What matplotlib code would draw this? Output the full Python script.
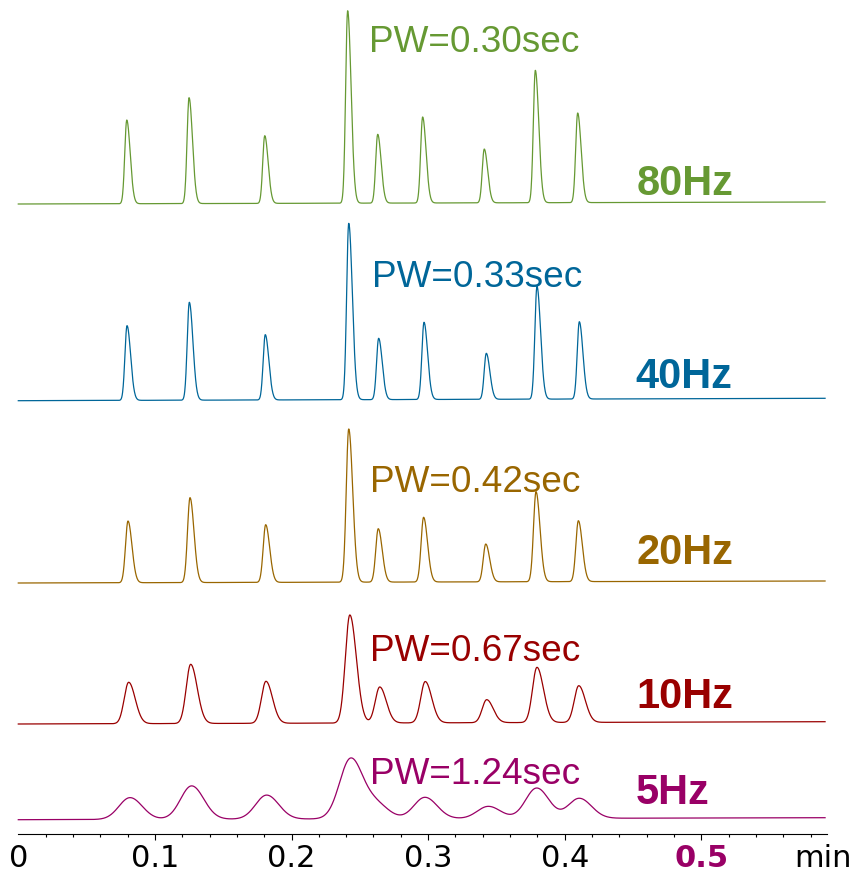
import numpy as np
import matplotlib
matplotlib.use("Agg")
import matplotlib.pyplot as plt

# ---------------- data ----------------
trace_names = ["80Hz", "40Hz", "20Hz", "10Hz", "5Hz"]
pw_labels = ["PW=0.30sec", "PW=0.33sec", "PW=0.42sec", "PW=0.67sec", "PW=1.24sec"]
trace_colors = ["#669933", "#006699", "#996600", "#990000", "#990066"]

# peak retention times (min) for each trace
rt_80 = [0.0794, 0.1250, 0.1804, 0.2411, 0.2631, 0.2960, 0.3411, 0.3785, 0.4095]
rt_40 = [0.0796, 0.1252, 0.1808, 0.2419, 0.2638, 0.2970, 0.3426, 0.3797, 0.4107]
rt_20 = [0.0803, 0.1257, 0.1811, 0.2419, 0.2635, 0.2967, 0.3422, 0.3790, 0.4100]
rt_10 = [0.0808, 0.1262, 0.1813, 0.2427, 0.2646, 0.2979, 0.3429, 0.3797, 0.4103]
rt_5 = [0.0818, 0.1269, 0.1818, 0.2433, 0.2622, 0.2977, 0.3441, 0.3795, 0.4107]

# peak heights (signal units) for each trace
h_80 = [83.7, 105.9, 67.7, 192.5, 68.8, 86.0, 53.8, 132.4, 89.6]
h_40 = [74.7, 97.9, 65.3, 176.4, 61.3, 77.2, 46.0, 112.8, 77.3]
h_20 = [61.7, 84.9, 57.7, 153.2, 53.4, 64.7, 37.8, 90.0, 60.9]
h_10 = [41.4, 59.2, 42.0, 108.1, 36.0, 41.3, 23.0, 55.2, 36.7]
h_5 = [21.8, 33.4, 24.0, 60.0, 14.0, 21.4, 12.2, 30.4, 20.0]

# peak widths (min): leading / trailing sigma
sigma_lead = [0.00146, 0.00154, 0.00183, 0.00329, 0.0081]
sigma_tail = [0.00250, 0.00262, 0.00290, 0.00476, 0.0089]

# baseline level at start / end of run (signal units, with stacking)
base_start = [630.0, 433.3, 251.0, 110.0, 14.3]
base_end = [632.0, 435.7, 253.0, 112.3, 16.3]

run_end = 0.5906
major_ticks = [0.1, 0.2, 0.3, 0.4, 0.5]
minor_ticks = [0.02, 0.04, 0.06, 0.08, 0.12, 0.14, 0.16, 0.18, 0.22, 0.24, 0.26,
               0.28, 0.32, 0.34, 0.36, 0.38, 0.42, 0.44, 0.46, 0.48, 0.52, 0.54,
               0.56, 0.58]
tick_labels = ["0", "0.1", "0.2", "0.3", "0.4", "0.5"]
tick_label_pos = [0.0, 0.1, 0.2, 0.3, 0.4, 0.5]

all_rt = [rt_80, rt_40, rt_20, rt_10, rt_5]
all_h = [h_80, h_40, h_20, h_10, h_5]

# ---------------- figure ----------------
W, H = 856, 879
fig = plt.figure(figsize=(W / 100, H / 100), dpi=100)
axis_px = 835.0
ax = fig.add_axes([0, (H - axis_px) / H, 1, axis_px / H])
px_per_min = 1366.0
x0_px = 18.3
ax.set_xlim(-x0_px / px_per_min, (W - x0_px) / px_per_min)
ax.set_ylim(0, axis_px)


def px2x(px):
    return (px - x0_px) / px_per_min


def py2y(py):
    return axis_px - py


t = np.linspace(0.0, run_end, 4000)
for i in range(5):
    y = base_start[i] + (base_end[i] - base_start[i]) * t / run_end
    for c, h in zip(all_rt[i], all_h[i]):
        s = np.where(t < c, sigma_lead[i], sigma_tail[i])
        y = y + h * np.exp(-0.5 * ((t - c) / s) ** 2)
    ax.plot(t, y, color=trace_colors[i], lw=0.9, solid_joinstyle="round")

# annotations
pw_left_px = [369, 372, 370, 370, 370]
pw_base_px = [51.7, 287.3, 491.7, 661.0, 784.3]
hz_left_px = [636.5, 635.5, 636.5, 636.5, 635.5]
hz_base_px = [195.0, 388.3, 564.0, 708.3, 804.0]
for i in range(5):
    ax.text(px2x(pw_left_px[i]), py2y(pw_base_px[i]), pw_labels[i],
            color=trace_colors[i], fontsize=26.6, family="Liberation Sans",
            ha="left", va="baseline")
    ax.text(px2x(hz_left_px[i]), py2y(hz_base_px[i]), trace_names[i],
            color=trace_colors[i], fontsize=29.9, family="Liberation Sans",
            fontweight="bold", ha="left", va="baseline")

# x axis
for sp in ["top", "left", "right"]:
    ax.spines[sp].set_visible(False)
ax.spines["bottom"].set_bounds(0, px2x(827))
ax.spines["bottom"].set_linewidth(0.8)
ax.set_yticks([])
ax.set_xticks(major_ticks, labels=[""] * len(major_ticks))
ax.set_xticks(minor_ticks, minor=True)
ax.tick_params(axis="x", which="major", direction="out", length=4.3, width=0.8)
ax.tick_params(axis="x", which="minor", direction="out", length=2.4, width=0.8)
ax.patch.set_visible(False)

label_base = py2y(867.5)
for pos, lab in zip(tick_label_pos, tick_labels):
    bold = lab == "0.5"
    ax.text(pos, label_base, lab, ha="center", va="baseline",
            fontsize=22, family="DejaVu Sans",
            fontweight="bold" if bold else "normal",
            color="#990066" if bold else "black", clip_on=False)
ax.text(px2x(823), label_base, "min", ha="center", va="baseline",
        fontsize=22, family="DejaVu Sans", color="black", clip_on=False)

fig.savefig("out.png", dpi=100)
